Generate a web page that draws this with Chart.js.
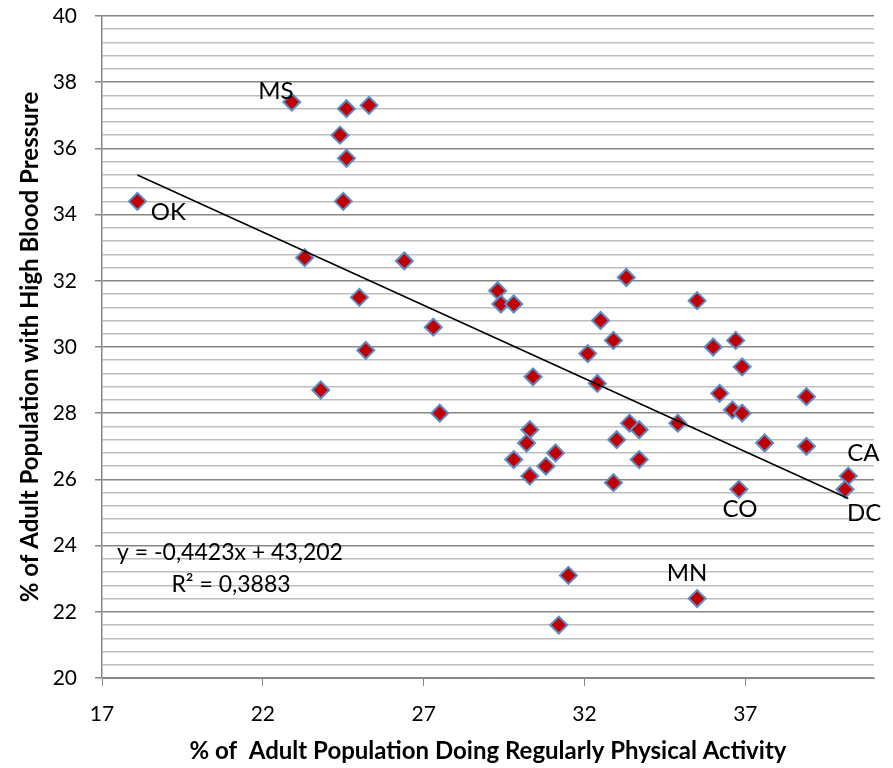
<!DOCTYPE html>
<html><head><meta charset="utf-8">
<script src="https://cdn.jsdelivr.net/npm/chart.js@4/dist/chart.umd.min.js"></script>
<style>html,body{margin:0;padding:0;background:#fff;}#wrap{width:893px;height:768px;}</style>
</head><body><div id="wrap"><canvas id="c" width="893" height="768"></canvas></div>
<script>
// % of adult population doing regular physical activity (x)
const activity = [18.1, 22.9, 24.6, 25.3, 24.4, 24.6, 24.5, 23.3, 23.8, 25.0,
  25.2, 26.4, 27.3, 27.5, 29.3, 29.4, 29.8, 30.4, 30.3, 30.2,
  29.8, 30.3, 31.1, 30.8, 31.5, 31.2, 32.5, 32.9, 32.1, 32.4,
  33.3, 33.4, 33.7, 33.0, 33.7, 32.9, 34.9, 35.5, 36.7, 36.0,
  36.9, 36.2, 36.6, 36.9, 38.9, 37.6, 38.9, 36.8, 35.5, 40.2, 40.1];
// % of adult population with high blood pressure (y)
const bloodPressure = [34.4, 37.4, 37.2, 37.3, 36.4, 35.7, 34.4, 32.7, 28.7, 31.5,
  29.9, 32.6, 30.6, 28.0, 31.7, 31.3, 31.3, 29.1, 27.5, 27.1,
  26.6, 26.1, 26.8, 26.4, 23.1, 21.6, 30.8, 30.2, 29.8, 28.9,
  32.1, 27.7, 27.5, 27.2, 26.6, 25.9, 27.7, 31.4, 30.2, 30.0,
  29.4, 28.6, 28.1, 28.0, 28.5, 27.1, 27.0, 25.7, 22.4, 26.1, 25.7];
// state labels shown next to some points
const stateLabels = ['OK', 'MS', '', '', '', '', '', '', '', '',
  '', '', '', '', '', '', '', '', '', '',
  '', '', '', '', '', '', '', '', '', '',
  '', '', '', '', '', '', '', '', '', '',
  '', '', '', '', '', '', '', 'CO', 'MN', 'CA', 'DC'];
const xTickValues = [17, 22, 27, 32, 37];
const yTickValues = [20, 22, 24, 26, 28, 30, 32, 34, 36, 38, 40];
const trendSlope = -0.4423;
const trendIntercept = 43.202;
const rSquared = 0.3883;

const points = activity.map((x, i) => ({x: x, y: bloodPressure[i]}));
const xMin = Math.min(...activity), xMax = Math.max(...activity);
const trend = [xMin, xMax].map(x => ({x: x, y: trendSlope * x + trendIntercept}));
const fmt = v => String(v).replace('.', ',');
const eqLines = ['y = ' + fmt(trendSlope) + 'x + ' + fmt(trendIntercept), 'R² = ' + fmt(rSquared)];

// label placement (pixel offsets from point)
const labelOffsets = {OK: [31, 11], MS: [-16, -11], CA: [15, -23], CO: [1, 20], DC: [19, 24], MN: [-10, -25]};
const FONT = 'Lato, "Open Sans", sans-serif';
const isMajor = v => yTickValues.some(t => Math.abs(t - v) < 1e-6);

const annotate = {
  id: 'annotate',
  afterDatasetsDraw(chart) {
    const ctx = chart.ctx;
    const meta = chart.getDatasetMeta(1);
    ctx.save();
    ctx.fillStyle = '#000';
    ctx.font = '24px ' + FONT;
    ctx.textAlign = 'center';
    ctx.textBaseline = 'middle';
    meta.data.forEach((el, i) => {
      const t = stateLabels[i];
      if (!t) return;
      const o = labelOffsets[t] || [0, -20];
      ctx.fillText(t, el.x + o[0], el.y + o[1]);
    });
    const a = chart.chartArea;
    ctx.font = '23px ' + FONT;
    ctx.fillText(eqLines[0], a.left + 128, a.top + 537);
    ctx.fillText(eqLines[1], a.left + 129, a.top + 569);
    ctx.restore();
  }
};

new Chart(document.getElementById('c'), {
  data: {
    datasets: [
      {type: 'line', data: trend, borderColor: '#000', borderWidth: 1.5, pointRadius: 0, fill: false, order: 0},
      {type: 'scatter', data: points, pointStyle: 'rectRot', pointRadius: 8.5, pointHoverRadius: 8.5,
        backgroundColor: '#C00000', borderColor: '#5B8CC8', borderWidth: 2, order: 1}
    ]
  },
  options: {
    responsive: false, animation: false, devicePixelRatio: 1,
    layout: {padding: {left: 0, right: 19, top: 16, bottom: 0}},
    plugins: {legend: {display: false}, tooltip: {enabled: false}},
    scales: {
      x: {
        type: 'linear', min: 17, max: 41,
        afterBuildTicks: s => { s.ticks = xTickValues.map(v => ({value: v})); },
        afterFit: s => { s.height = 90; s.paddingLeft = 0; s.paddingRight = 0; },
        grid: {drawOnChartArea: false, tickLength: 8, color: '#868686', lineWidth: 1},
        border: {color: '#868686', width: 1},
        ticks: {font: {family: FONT, size: 21}, color: '#000', padding: 16, autoSkip: false, maxRotation: 0},
        title: {display: true, text: '% of  Adult Population Doing Regularly Physical Activity',
          font: {family: FONT, size: 24, weight: 'bold'}, color: '#000', padding: {top: 0, bottom: 2}}
      },
      y: {
        type: 'linear', min: 20, max: 40,
        afterBuildTicks: s => { const t = []; for (let k = 0; k <= 50; k++) t.push({value: Math.round((20 + k * 0.4) * 10) / 10}); s.ticks = t; },
        afterFit: s => { s.width = 102; s.paddingTop = 0; s.paddingBottom = 0; },
        grid: {
          color: c => isMajor(c.tick.value) ? '#868686' : '#BEBEBE',
          tickColor: c => isMajor(c.tick.value) ? '#868686' : 'rgba(0,0,0,0)',
          lineWidth: 1.5, tickLength: 7
        },
        border: {color: '#868686', width: 1.5},
        ticks: {font: {family: FONT, size: 21}, color: '#000', padding: 18, autoSkip: false,
          callback: v => isMajor(v) ? String(Math.round(v)) : ''},
        title: {display: true, text: '% of Adult Population with High Blood Pressure',
          font: {family: FONT, size: 24, weight: 'bold'}, color: '#000', padding: {top: 16, bottom: 0}}
      }
    }
  },
  plugins: [annotate]
});
</script>
</body></html>
